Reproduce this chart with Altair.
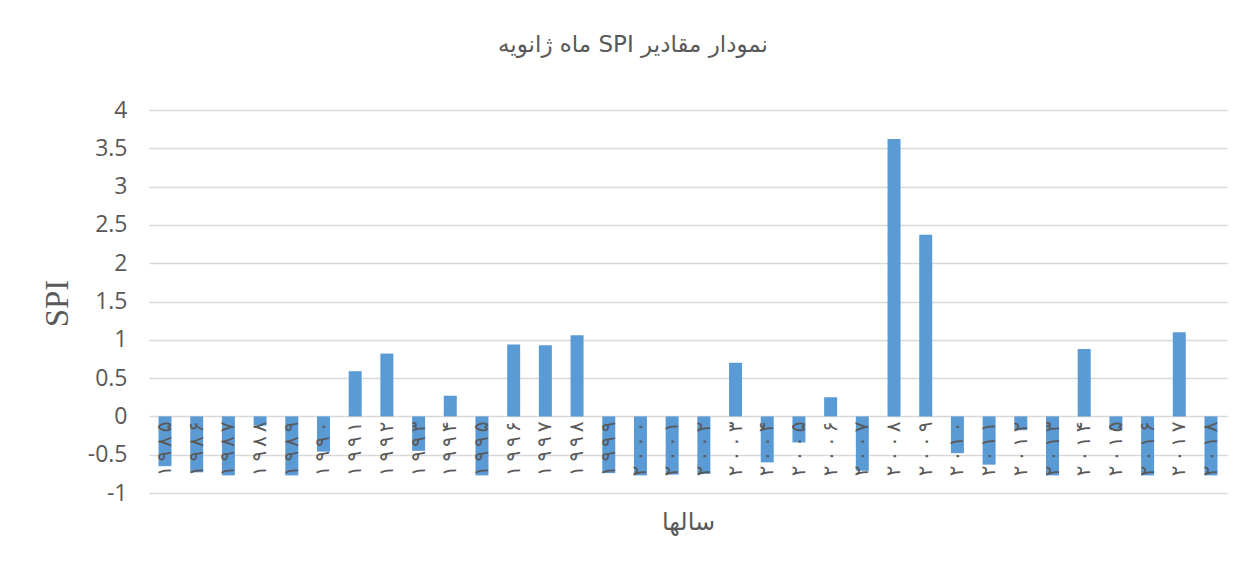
import altair as alt
import pandas as pd

years = list(range(1985, 2019))
spi = [-0.65, -0.73, -0.77, -0.12, -0.77, -0.46, 0.59, 0.82, -0.45, 0.27,
       -0.77, 0.94, 0.93, 1.06, -0.74, -0.77, -0.76, -0.75, 0.70, -0.60,
       -0.34, 0.25, -0.71, 3.62, 2.37, -0.48, -0.63, -0.18, -0.77, 0.88,
       -0.18, -0.77, 1.10, -0.77]
y_ticks = [-1, -0.5, 0, 0.5, 1, 1.5, 2, 2.5, 3, 3.5, 4]

fa_digits = "۰۱۲۳۴۵۶۷۸۹"
labels = ["\u2009".join(fa_digits[int(c)] for c in str(y)) for y in years]

df = pd.DataFrame({"year": labels, "spi": spi})

title_text = "\u202bنمودار مقادیر SPI ماه ژانویه\u202c"
x_title = "سالها"

GRAY = "#595959"

x_enc = alt.X("year:N", sort=labels,
              scale=alt.Scale(paddingInner=0.59, paddingOuter=0.3),
              axis=alt.Axis(labels=False, ticks=False, domain=False,
                            title=x_title, titleFontSize=24, titleColor=GRAY,
                            titleFontWeight="normal", titlePadding=17,
                            titleFont="DejaVu Sans"))

y_scale = alt.Scale(domain=[-1, 4])

bars = alt.Chart(df).mark_bar(color="#5B9BD5").encode(
    x=x_enc,
    y=alt.Y("spi:Q", scale=y_scale,
            axis=alt.Axis(values=y_ticks,
                          labelExpr="'' + datum.value",
                          labelOverlap=False, labelFontSize=23,
                          labelColor=GRAY, labelFont="Open Sans",
                          ticks=False, domain=False, labelPadding=22,
                          gridColor="#D9D9D9", gridWidth=1.5,
                          title="SPI", titleFont="Liberation Serif",
                          titleFontSize=33, titleFontWeight="normal",
                          titleColor=GRAY, titleX=-92, titleY=193,
                          titleAngle=270, titleAlign="center",
                          titleBaseline="middle")),
)

text = alt.Chart(df).transform_calculate(zero="0").mark_text(
    angle=270, align="right", baseline="middle", dx=-5, fontSize=20,
    color=GRAY, font="DejaVu Sans").encode(
    x=alt.X("year:N", sort=labels),
    y=alt.Y("zero:Q", scale=y_scale, axis=None),
    text="year:N",
)

chart = (bars + text).resolve_axis(y="independent").properties(
    width=1078, height=383,
    autosize=alt.AutoSizeParams(type="none"),
    padding={"left": 141, "top": 102, "right": 10, "bottom": 50},
    title=alt.TitleParams(title_text, fontSize=23, fontWeight="normal",
                          color=GRAY, font="DejaVu Sans", anchor="middle",
                          dx=-55, offset=42),
).configure_view(stroke=None)

chart.save("out.html", embed_options={"renderer": "svg", "actions": False})
